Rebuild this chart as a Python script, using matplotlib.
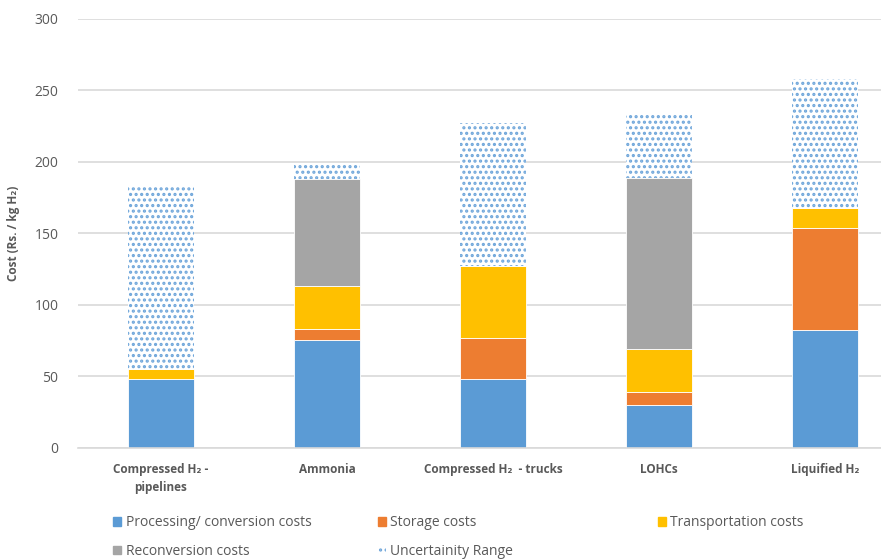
import numpy as np
import matplotlib.pyplot as plt
from matplotlib.patches import Patch

plt.rcParams['font.family'] = ['Open Sans', 'DejaVu Sans']
plt.rcParams['hatch.color'] = '#6FA6DA'
plt.rcParams['hatch.linewidth'] = 1.5

# cost components (Rs. / kg H2), stacked bottom to top
routes = ["Compressed H₂ -\npipelines", "Ammonia", "Compressed H₂  - trucks",
          "LOHCs", "Liquified H₂"]
processing = [48, 75, 48, 30, 82]
storage = [0, 8, 29, 9, 72]
transport = [7, 30, 50, 30, 14]
reconversion = [0, 75, 0, 120, 0]
upper_bound = [183, 199, 227, 234, 258]

c_proc = "#5B9BD5"
c_stor = "#ED7D31"
c_trans = "#FFC000"
c_recon = "#A5A5A5"
txt = "#595959"

fig = plt.figure(figsize=(8.81, 5.60), dpi=100)
ax = fig.add_axes([78 / 881, 1 - 447.5 / 560, 1 - 78 / 881, (447.5 - 19) / 560])

x = np.arange(len(routes))
w = 0.4
bottom = np.zeros(len(routes))
for vals, col in [(processing, c_proc), (storage, c_stor),
                  (transport, c_trans), (reconversion, c_recon)]:
    ax.bar(x, vals, w, bottom=bottom, color=col, edgecolor="white", linewidth=0.6, zorder=2)
    bottom += np.array(vals)

# uncertainty range sits on top of the stacked total
unc = np.array(upper_bound) - bottom
ax.bar(x, unc, w, bottom=bottom, facecolor="white", hatch="...",
       edgecolor="#6FA6DA", linewidth=0, zorder=2)

ax.set_xlim(-0.5, 720 / 166)
ax.set_ylim(0, 300)
ax.set_yticks(range(0, 301, 50))
ax.yaxis.grid(True, color="#D9D9D9", linewidth=1.2, zorder=0)
ax.set_axisbelow(True)
for s in ["top", "right", "left"]:
    ax.spines[s].set_visible(False)
ax.spines["bottom"].set_color("#D9D9D9")
ax.spines["bottom"].set_linewidth(1.2)
ax.tick_params(axis="both", length=0, colors=txt)
ax.tick_params(axis="y", pad=14, labelsize=10)
ax.tick_params(axis="x", pad=11, labelsize=8.5)

ax.set_xticks(x)
ax.set_xticklabels(routes, fontweight="bold", color=txt, linespacing=1.5)
ax.set_ylabel("Cost (Rs. / kg H₂)", fontsize=8.5, fontweight="bold", color=txt)
ax.yaxis.set_label_coords(-0.072, 0.5)

# legend laid out as three columns below the plot
cols = [
    ([Patch(color=c_proc), Patch(color=c_recon)],
     ["Processing/ conversion costs", "Reconversion costs"], 113),
    ([Patch(color=c_stor), Patch(facecolor="white", hatch="...", edgecolor="#6FA6DA", linewidth=0)],
     ["Storage costs", "Uncertainity Range"], 378),
    ([Patch(color=c_trans)], ["Transportation costs"], 658),
]
for handles, labels, px in cols:
    leg = fig.legend(handles, labels, loc="upper left", bbox_to_anchor=(px / 881, 1 - 515 / 560),
                     frameon=False, fontsize=10, handlelength=0.6, handleheight=0.6,
                     handletextpad=0.3, labelspacing=1.0, borderpad=0, borderaxespad=0)
    for t in leg.get_texts():
        t.set_color(txt)

fig.savefig("out.png", dpi=100)
